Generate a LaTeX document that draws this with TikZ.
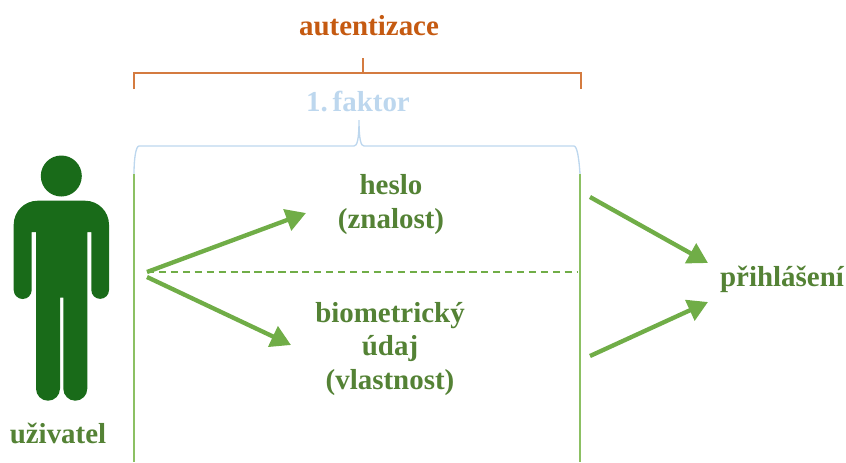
\documentclass[tikz,border=0pt]{standalone}
\usepackage{fontspec}
\setmainfont{Liberation Serif}
\usetikzlibrary{arrows.meta}
\definecolor{txtgreen}{HTML}{548235}
\definecolor{arrowgreen}{HTML}{70AD47}
\definecolor{linegreen}{HTML}{8CC063}
\definecolor{mangreen}{HTML}{196B19}
\definecolor{txtorange}{HTML}{C55A11}
\definecolor{lineorange}{HTML}{D47B40}
\definecolor{paleblue}{HTML}{BDD7EE}
\tikzset{
    label/.style={font=\fontsize{24.7}{29}\selectfont\bfseries,text=txtgreen,align=center,inner sep=0pt},
    flow/.style={draw=arrowgreen,line width=1.3mm,-{Triangle[length=6mm,width=6.6mm]}}
}

\begin{document}
\begin{tikzpicture}[x=0.03cm,y=-0.03cm]
        \useasboundingbox (0,0) rectangle (846,462);
        \node[label,text=txtorange] (auth) at (369,26) {autentizace};
        \node[label,text=paleblue] (factor) at (358,102) {1.\,faktor};
        \node[label] (pass) at (391,205) {heslo\\(znalost)};
        \node[label] (bio) at (390,349) {biometrický\\údaj\\(vlastnost)};
        \node[label] (user) at (58,433) {uživatel};
        \node[label] (login) at (782,279) {přihlášení};
        \coordinate (lefttop) at (134,174);
        \coordinate (leftbot) at (134,462);
        \coordinate (righttop) at (580,174);
        \coordinate (rightbot) at (580,462);
        \coordinate (split) at (147,272);
        \coordinate (splitend) at (578,272);
        \coordinate (passin) at (306,213);
        \coordinate (biostart) at (147,277);
        \coordinate (bioin) at (291,345);
        \coordinate (passout) at (590,197);
        \coordinate (passend) at (708,263);
        \coordinate (bioout) at (590,356);
        \coordinate (bioend) at (708,302);
        \draw[lineorange,line width=.4mm] (134,89) -- (134,73) -- (581,73) -- (581,89);
        \draw[lineorange,line width=.4mm] (363,58) -- (363,73);
        \draw[paleblue,line width=.4mm] (lefttop) .. controls (134,158) and (136,146) .. (139,146)
            -- (354,146) .. controls (357,146) and (359,140) .. (359,120)
            .. controls (359,140) and (361,146) .. (364,146) -- (574,146)
            .. controls (577,146) and (579,158) .. (righttop);
        \draw[linegreen,line width=.5mm] (lefttop) -- (leftbot);
        \draw[linegreen,line width=.5mm] (righttop) -- (rightbot);
        \draw[arrowgreen,line width=.45mm,dash pattern=on 2.2mm off 1.38mm] (split) -- (splitend);
        \draw[flow] (split) -- (passin);
        \draw[flow] (biostart) -- (bioin);
        \draw[flow] (passout) -- (passend);
        \draw[flow] (bioout) -- (bioend);
        \fill[mangreen] (61.3,176) circle (20.5);
        \fill[mangreen] (37.7,200.7) -- (85,200.7) arc[start angle=-90,end angle=0,radius=24]
            -- (109,290) arc[start angle=0,end angle=180,radius=8.85] -- (91.3,232) -- (87.3,232) -- (87.3,388.7)
            arc[start angle=0,end angle=180,radius=12] -- (63.3,297.7) -- (60,297.7) -- (60,388.7)
            arc[start angle=0,end angle=180,radius=12] -- (36,232) -- (31.7,232) -- (31.7,290)
            arc[start angle=0,end angle=180,radius=9] -- (13.7,224.7)
            arc[start angle=180,end angle=270,radius=24] -- cycle;
    \end{tikzpicture}
\end{document}
